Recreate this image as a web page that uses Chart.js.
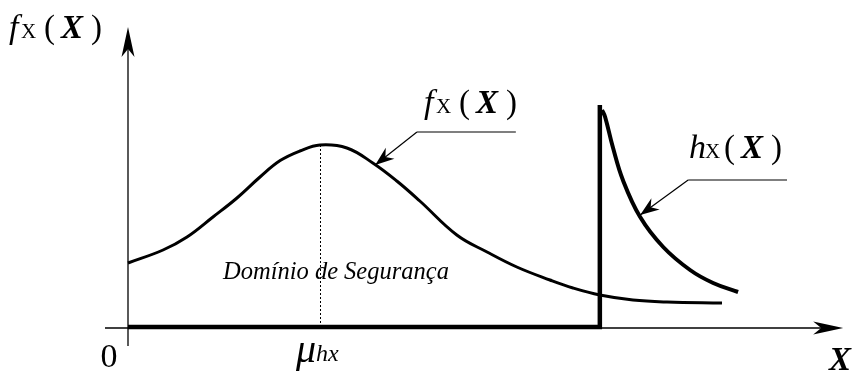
<!DOCTYPE html>
<html>
<head>
<meta charset="utf-8">
<script src="https://cdn.jsdelivr.net/npm/chart.js@4"></script>
<style>
  html, body { margin: 0; padding: 0; background: #fff; }
  canvas { display: block; }
</style>
</head>
<body>
<canvas id="densityChart" width="854" height="371"></canvas>
<script>
// f_X(X): bell-shaped density over the safe domain
const fX = [0, 0.73, 1.23, 1.77, 2.27, 2.75, 3.17, 3.58, 4.0, 4.56, 5.10, 5.60, 6.08, 6.85, 7.48, 8.10, 8.79, 9.27, 9.83, 10.52, 11.23, 12.375];
const fY = [0.32, 0.385, 0.45, 0.55, 0.645, 0.75, 0.832, 0.88, 0.91, 0.895, 0.82, 0.73, 0.63, 0.46, 0.375, 0.30, 0.235, 0.195, 0.16, 0.135, 0.125, 0.12];

// h_X(X): decaying density that starts at the wall
const hX = [9.875, 9.94, 10.10, 10.31, 10.67, 11.15, 11.71, 12.19, 12.71];
const hY = [1.085, 1.05, 0.90, 0.735, 0.55, 0.40, 0.285, 0.22, 0.175];

// thick baseline plus the vertical wall of h_X
const wallX = [0, 9.83, 9.83];
const wallY = [0, 0, 1.11];

// mean of f_X, marked with the dotted line
const muHx = 4.0;

const serif = '"Liberation Serif", "Times New Roman", serif';
const pts = (xs, ys) => xs.map((v, i) => ({ x: v, y: ys[i] }));

function line(ctx, x1, y1, x2, y2) {
  ctx.beginPath();
  ctx.moveTo(x1, y1);
  ctx.lineTo(x2, y2);
  ctx.stroke();
}

// notched arrow head pointing along angle a, tip at (tx, ty)
function arrowHead(ctx, tx, ty, a, len, half, notch) {
  const c = Math.cos(a), s = Math.sin(a);
  ctx.beginPath();
  ctx.moveTo(tx, ty);
  ctx.lineTo(tx - len * c - half * s, ty - len * s + half * c);
  ctx.lineTo(tx - (len - notch) * c, ty - (len - notch) * s);
  ctx.lineTo(tx - len * c + half * s, ty - len * s - half * c);
  ctx.closePath();
  ctx.fill();
}

// text pieces placed at fixed offsets from (x, y)
function drawRuns(ctx, x, y, runs) {
  ctx.textBaseline = 'alphabetic';
  ctx.textAlign = 'left';
  runs.forEach(r => {
    ctx.font = r.font;
    ctx.fillText(r.t, x + r.at, y + (r.dy || 0));
  });
}

function densityLabel(letter) {
  return [
    { t: letter, at: 0, font: 'italic 34px ' + serif },
    { t: 'X', at: letter === 'h' ? 16 : 12, font: '21px ' + serif },
    { t: '(', at: 35, font: '33px ' + serif },
    { t: 'X', at: 52, font: 'bold italic 33px ' + serif },
    { t: ')', at: 82, font: '33px ' + serif }
  ];
}

const sketchPlugin = {
  id: 'sketch',
  beforeDatasetsDraw(chart) {
    const { ctx, scales: { x, y } } = chart;
    const ox = x.getPixelForValue(0), oy = y.getPixelForValue(0);
    ctx.save();
    ctx.strokeStyle = '#000';
    ctx.fillStyle = '#000';
    ctx.lineWidth = 1.3;

    // axes with arrow heads
    const xTip = x.getPixelForValue(14.9);
    line(ctx, ox - 23, oy + 1, xTip - 20, oy + 1);
    arrowHead(ctx, xTip, oy + 1, 0, 30, 6.5, 8);
    const yTip = y.getPixelForValue(1.5);
    line(ctx, ox, oy + 19, ox, yTip + 20);
    arrowHead(ctx, ox, yTip, -Math.PI / 2, 30, 6.5, 8);

    // dotted line from the peak down to the axis
    const peak = Math.max(...fY);
    ctx.lineWidth = 1;
    ctx.setLineDash([2, 2]);
    const mx = Math.round(x.getPixelForValue(muHx)) + 0.5;
    line(ctx, mx, y.getPixelForValue(peak), mx, oy);
    ctx.restore();
  },
  afterDatasetsDraw(chart) {
    const { ctx, scales: { x, y } } = chart;
    const px = v => x.getPixelForValue(v), py = v => y.getPixelForValue(v);
    ctx.save();
    ctx.fillStyle = '#000';
    ctx.strokeStyle = '#000';

    // leader lines pointing at each curve
    const leaders = [
      { tip: [5.15, 0.81], elbow: [6.02, 0.975], end: 8.08 },
      { tip: [10.67, 0.56], elbow: [11.67, 0.735], end: 13.73 }
    ];
    ctx.lineWidth = 1.2;
    leaders.forEach(l => {
      const tx = px(l.tip[0]), ty = py(l.tip[1]);
      const ex = px(l.elbow[0]), ey = py(l.elbow[1]);
      line(ctx, px(l.end), ey, ex, ey);
      line(ctx, ex, ey, tx, ty);
      arrowHead(ctx, tx, ty, Math.atan2(ty - ey, tx - ex), 19, 7, 6);
    });

    // axis and curve labels
    drawRuns(ctx, 9, 38, densityLabel('f'));
    drawRuns(ctx, 424, 113, densityLabel('f'));
    drawRuns(ctx, 689, 158, densityLabel('h'));

    ctx.font = '34px ' + serif;
    ctx.textAlign = 'center';
    ctx.fillText('0', px(0) - 19, py(0) + 40);
    ctx.font = 'bold italic 33px ' + serif;
    ctx.textAlign = 'left';
    ctx.fillText('X', 829, py(0) + 43);

    const mx = px(muHx);
    drawRuns(ctx, mx - 24, py(0) + 35, [
      { t: 'μ', at: 0, font: 'italic 40px ' + serif },
      { t: 'hx', at: 20, font: 'italic 24px ' + serif, dy: -1 }
    ]);

    ctx.font = 'italic 24.5px ' + serif;
    ctx.fillText('Domínio de Segurança', 223, 279);
    ctx.restore();
  }
};

const lineStyle = {
  showLine: true,
  pointRadius: 0,
  borderColor: '#000',
  backgroundColor: '#000',
  fill: false,
  clip: false
};

new Chart(document.getElementById('densityChart'), {
  type: 'scatter',
  data: {
    datasets: [
      { ...lineStyle, label: 'f', data: pts(fX, fY), borderWidth: 3, tension: 0.4 },
      { ...lineStyle, label: 'h', data: pts(hX, hY), borderWidth: 4, tension: 0.4 },
      { ...lineStyle, label: 'wall', data: pts(wallX, wallY), borderWidth: 4.5, tension: 0, borderJoinStyle: 'miter' }
    ]
  },
  options: {
    responsive: false,
    animation: false,
    events: [],
    layout: { padding: { left: 128, right: 6, top: 27, bottom: 44 } },
    scales: {
      x: { type: 'linear', min: 0, max: 15, display: false },
      y: { type: 'linear', min: 0, max: 1.5, display: false }
    },
    plugins: { legend: { display: false }, tooltip: { enabled: false } }
  },
  plugins: [sketchPlugin]
});
</script>
</body>
</html>
